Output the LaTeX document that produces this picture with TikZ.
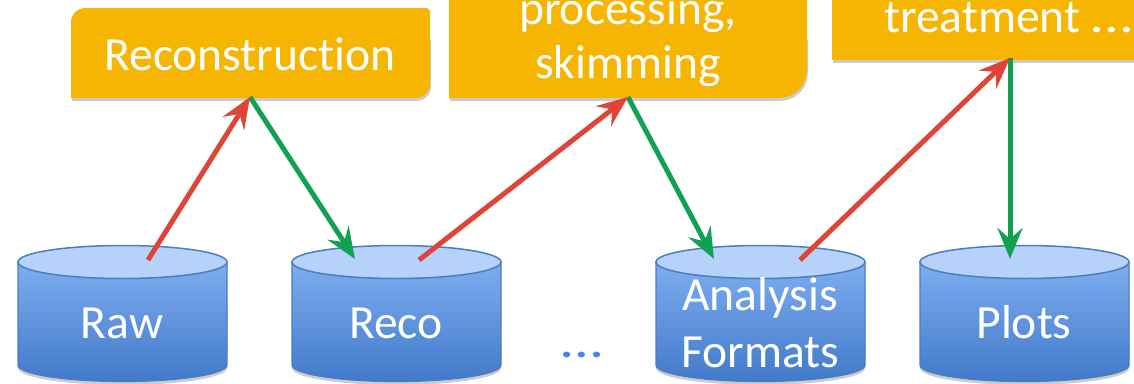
\documentclass[tikz,border=0pt]{standalone}
\usepackage{fontspec}
\setmainfont[Ligatures=NoCommon]{Carlito}
\usetikzlibrary{arrows.meta}
\definecolor{boxor}{HTML}{F5B500}
\definecolor{cyltop}{HTML}{B7D2FA}
\definecolor{cylhi}{HTML}{7EAEF0}
\definecolor{cyllo}{HTML}{4279CA}
\definecolor{cylline}{HTML}{4A7DBE}
\definecolor{redline}{HTML}{DE4437}
\definecolor{greenline}{HTML}{12A153}
\definecolor{dotblue}{HTML}{4583F2}
\tikzset{
  lab/.style={text=white,font=\fontsize{47.6}{47.6}\selectfont,inner sep=0pt,anchor=base},
  dots/.style={text=dotblue,font=\fontsize{47.6}{47.6}\selectfont,inner sep=0pt,anchor=base},
  conn/.style={line width=5pt,-{Stealth[length=31pt,width=25pt,inset=11pt]}},
  rd/.style={conn,draw=redline,color=redline},
  gr/.style={conn,draw=greenline,color=greenline},
  boxfill/.style={fill=boxor,draw=none},
  shadowfill/.style={fill=black,opacity=0.2,draw=none},
}
\newcommand{\cyl}[1]{%
  \fill[shadowfill] (#1,300) -- (#1+209,300) -- (#1+209,368) .. controls (#1+209,378) and (#1+160,385) .. (#1+104.5,385) .. controls (#1+49,385) and (#1,378) .. (#1,368) -- cycle;
  \shade[top color=cylhi,bottom color=cyllo,draw=cylline,line width=1.3pt]
    (#1,262) -- (#1,365) .. controls (#1,374) and (#1+47,381.5) .. (#1+104.5,381.5) .. controls (#1+162,381.5) and (#1+209,374) .. (#1+209,365) -- (#1+209,262) -- cycle;
  \draw[fill=cyltop,draw=cylline,line width=1.5pt] (#1+104.5,262) ellipse[x radius=104.5,y radius=16.5];
}
\begin{document}
\begin{tikzpicture}[x=1pt,y=-1pt]
\useasboundingbox (0,0) rectangle (1134,383);
% boxes
\fill[shadowfill] (72,40) -- (431,40) -- (431,86) .. controls (431,95) and (425,101) .. (416,101) -- (72,101) -- cycle;
\fill[boxfill] (86,8) -- (427,8) -- (430,11) -- (430,83) .. controls (430,92) and (424,98) .. (415,98) -- (71,98) -- (71,23) .. controls (71,14) and (77,8) .. (86,8) -- cycle;
\fill[shadowfill] (450,40) -- (808,40) -- (808,71) .. controls (808,89) and (796,101) .. (778,101) -- (450,101) -- cycle;
\fill[boxfill] (449,-10) -- (807,-10) -- (807,68) .. controls (807,86) and (795,98) .. (777,98) -- (449,98) -- cycle;
\fill[shadowfill] (833,20) -- (1140,20) -- (1140,63) -- (833,63) -- cycle;
\fill[boxfill] (832,-10) -- (1140,-10) -- (1140,60) -- (832,60) -- cycle;
\node[lab] (recon) at (250,70) {Reconstruction};
\node[lab] (proc) at (628,24) {processing,};
\node[lab] (skim) at (628,78) {skimming};
\node[lab,anchor=base west] (treat) at (884,32) {treatment \scalebox{1.25}[1]{…}};
% cylinders
\cyl{18}
\cyl{292}
\cyl{656}
\cyl{920}
\node[lab] (raw) at (122,338) {Raw};
\node[lab] (reco) at (396,338) {Reco};
\node[lab] (ana) at (760,310) {Analysis};
\node[lab] (fmt) at (760,367) {Formats};
\node[lab] (plots) at (1024,338) {Plots};
\node[dots] (dd) at (582,357) {\scalebox{1.25}[1]{…}};
% connector ends
\coordinate (rawT) at (148,260);
\coordinate (recoIn) at (355,259);
\coordinate (recoT) at (419,260);
\coordinate (anaIn) at (714,259);
\coordinate (anaT) at (800,260);
\coordinate (plotIn) at (1010,259);
\coordinate (reconB) at (250,97);
\coordinate (procB) at (628,97);
\coordinate (treatB) at (1010,58);
\draw[gr] (reconB) -- (recoIn);
\draw[rd] (rawT) -- (reconB);
\draw[gr] (procB) -- (anaIn);
\draw[rd] (recoT) -- (procB);
\draw[gr] (treatB) -- (plotIn);
\draw[rd] (anaT) -- (treatB);
\end{tikzpicture}
\end{document}
